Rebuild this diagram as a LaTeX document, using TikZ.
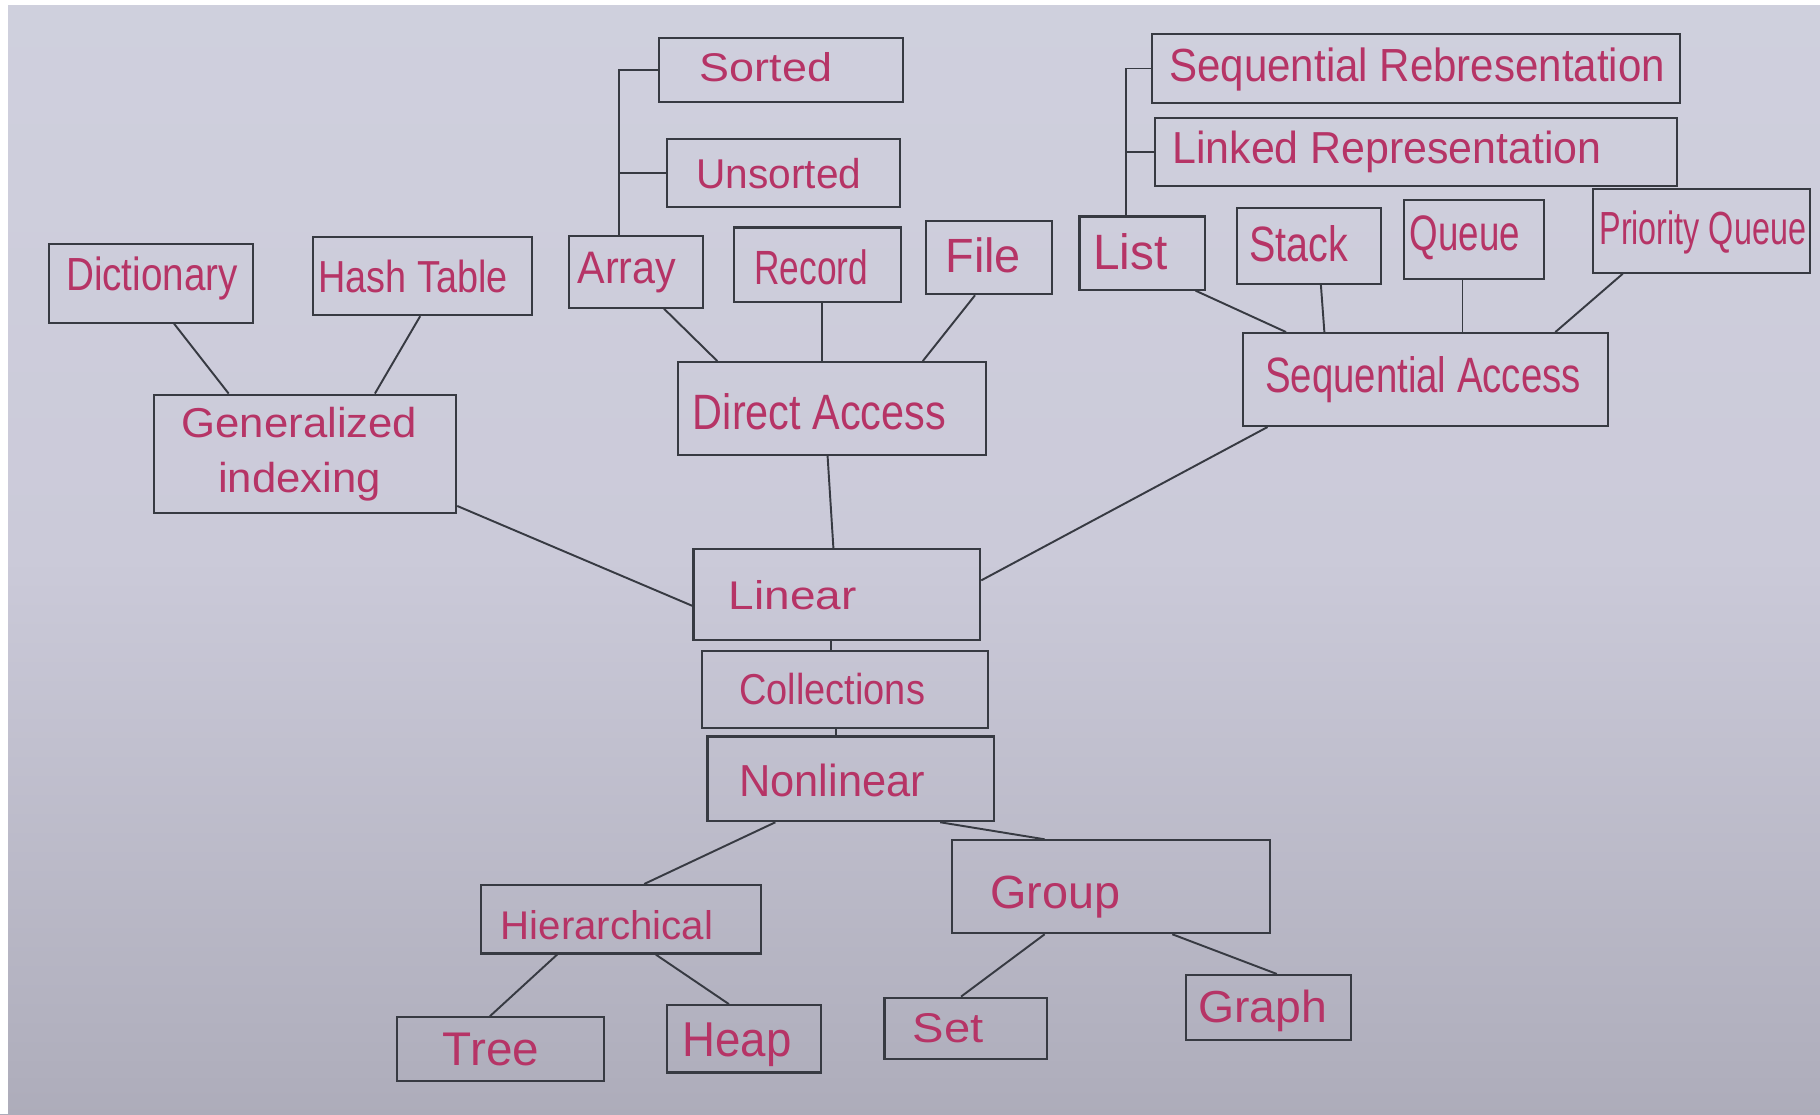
\documentclass[tikz,border=0pt]{standalone}
\usepackage{fontspec}
\setmainfont{Liberation Sans}
\usepackage{graphicx}
\newdimen\uu \uu=0.2321mm
\definecolor{btop}{RGB}{212,214,226}
\definecolor{bmid}{RGB}{203,202,217}
\definecolor{bmidb}{RGB}{176,175,189}
\definecolor{bbot}{RGB}{138,136,148}
\pgfdeclareverticalshading{bgshade}{100bp}{color(0bp)=(bbot); color(27bp)=(bmidb); color(50bp)=(bmid); color(100bp)=(btop)}
\definecolor{linec}{RGB}{55,58,66}
\definecolor{inkc}{RGB}{182,52,102}
\tikzset{
  box/.style={draw=linec, line width=1.2pt, inner sep=0pt},
  txt/.style={text=inkc, inner sep=0pt},
  conn/.style={draw=linec, line width=1.1pt}
}
% name, cx, cy, w, h, text dx, text dy, text width, text
\newcommand\bx[9]{\node[box, minimum width={#4*\uu}, minimum height={#5*\uu},
  label={[txt, xshift={(#6)*\uu}, yshift={-(#7)*\uu}]center:\resizebox{#8\uu}{\th\uu}{#9}}] (#1) at (#2,#3) {};}
\def\th{27}
\newcommand\pt[3]{([xshift={(#3)*\uu}]#1.#2)}
\begin{document}
\begin{tikzpicture}[x=0.2321mm, y=-0.2321mm]
\useasboundingbox (0,0) rectangle (1568,960);
\shade[shading=bgshade] (0,0) rectangle (1568,960);
\fill[white] (0,0) rectangle (7,960);
\fill[white] (0,0) rectangle (1568,4);

\def\th{25}\bx{sorted}{673}{60}{210}{55}{-13}{-2}{114}{Sorted}
\def\th{26}\bx{unsorted}{675}{149}{201}{58}{-4}{1}{142}{Unsorted}
\def\th{29}\bx{seqrep}{1220}{59}{455}{60}{1}{1}{427}{Sequential Rebresentation}
\def\th{28}\bx{linkrep}{1220}{131}{450}{58}{-25}{0}{370}{Linked Representation}
\def\th{29}\bx{dict}{130}{244}{176}{68}{1}{-4}{148}{Dictionary}
\def\th{28}\bx{hash}{364}{238}{188}{67}{-8}{0}{163}{Hash Table}
\def\th{27}\bx{array}{548}{234}{116}{62}{-8}{1}{85}{Array}
\def\th{30}\bx{record}{704}{228}{144}{64}{-5}{2}{98}{Record}
\def\th{30}\bx{file}{852}{222}{109}{63}{-5}{-2}{65}{File}
\def\th{31}\bx{list}{984}{218}{108}{63}{-10}{-1}{64}{List}
\def\th{31}\bx{stack}{1128}{212}{124}{65}{-9}{-2}{85}{Stack}
\def\th{30}\bx{queue}{1270}{206}{121}{68}{-8}{-1}{95}{Queue}
\def\th{29}\bx{prio}{1466}{199}{187}{72}{1}{1}{178}{Priority Queue}
\def\th{54}\bx{gen}{263}{391}{260}{102}{-5}{1}{203}{\begin{tabular}{@{}c@{}}Generalized\\[1pt]indexing\end{tabular}}
\def\th{31}\bx{direct}{717}{352}{265}{80}{-11}{3}{218}{Direct Access}
\def\th{31}\bx{seqacc}{1228}{327}{314}{80}{-2}{0}{272}{Sequential Access}
\def\th{25}\bx{linear}{721}{512}{247}{78}{-38}{1}{110}{Linear}
\def\th{27}\bx{coll}{728}{594}{247}{67}{-11}{0}{160}{Collections}
\def\th{28}\bx{nonlin}{733}{671}{247}{73}{-16}{1}{160}{Nonlinear}
\def\th{25}\bx{hier}{535}{792}{241}{59}{-12}{5}{183}{Hierarchical}
\def\th{28}\bx{group}{957}{764}{274}{80}{-48}{9}{112}{Group}
\def\th{28}\bx{tree}{431}{904}{178}{55}{-8}{0}{83}{Tree}
\def\th{29}\bx{heap}{641}{895}{132}{58}{-6}{5}{94}{Heap}
\def\th{25}\bx{set}{832}{886}{140}{53}{-15}{0}{61}{Set}
\def\th{28}\bx{graph}{1093}{868}{142}{56}{-5}{3}{111}{Graph}

% brackets
\coordinate (ab) at ([xshift={-15*\uu}]array.north);
\draw[conn] (ab) |- (sorted.west);
\draw[conn] (unsorted.west) -- (unsorted.west -| ab);
\coordinate (lb) at ([xshift={-14*\uu}]list.north);
\draw[conn] (lb) |- (seqrep.west);
\draw[conn] (linkrep.west) -- (linkrep.west -| lb);

% connectors
\draw[conn] \pt{dict}{south}{20} -- \pt{gen}{north}{-66};
\draw[conn] \pt{hash}{south}{-2} -- \pt{gen}{north}{60};
\draw[conn] \pt{array}{south}{24} -- \pt{direct}{north}{-99};
\draw[conn] \pt{record}{south}{4} -- \pt{direct}{north}{-9};
\draw[conn] \pt{file}{south}{-12} -- \pt{direct}{north}{78};
\draw[conn] \pt{list}{south}{46} -- \pt{seqacc}{north}{-120};
\draw[conn] \pt{stack}{south}{10} -- \pt{seqacc}{north}{-87};
\draw[conn] \pt{queue}{south}{-10} -- \pt{seqacc}{north}{32};
\draw[conn] \pt{prio}{south}{-68} -- \pt{seqacc}{north}{112};
\draw[conn] ([yshift={7*\uu}]gen.south east) -- ([yshift={-10*\uu}]linear.west);
\draw[conn] \pt{direct}{south}{-4} -- \pt{linear}{north}{-3};
\draw[conn] \pt{seqacc}{south}{-136} -- ([yshift={12*\uu}]linear.east);
\draw[conn] \pt{linear}{south}{-5} -- \pt{coll}{north}{-12};
\draw[conn] \pt{coll}{south}{-8} -- \pt{nonlin}{north}{-13};
\draw[conn] \pt{nonlin}{south}{-65} -- \pt{hier}{north}{20};
\draw[conn] \pt{nonlin}{south}{77} -- \pt{group}{north}{-57};
\draw[conn] \pt{hier}{south}{-55} -- \pt{tree}{north}{-9};
\draw[conn] \pt{hier}{south}{30} -- \pt{heap}{north}{-13};
\draw[conn] \pt{group}{south}{-57} -- \pt{set}{north}{-4};
\draw[conn] \pt{group}{south}{53} -- \pt{graph}{north}{7};
\end{tikzpicture}
\end{document}
